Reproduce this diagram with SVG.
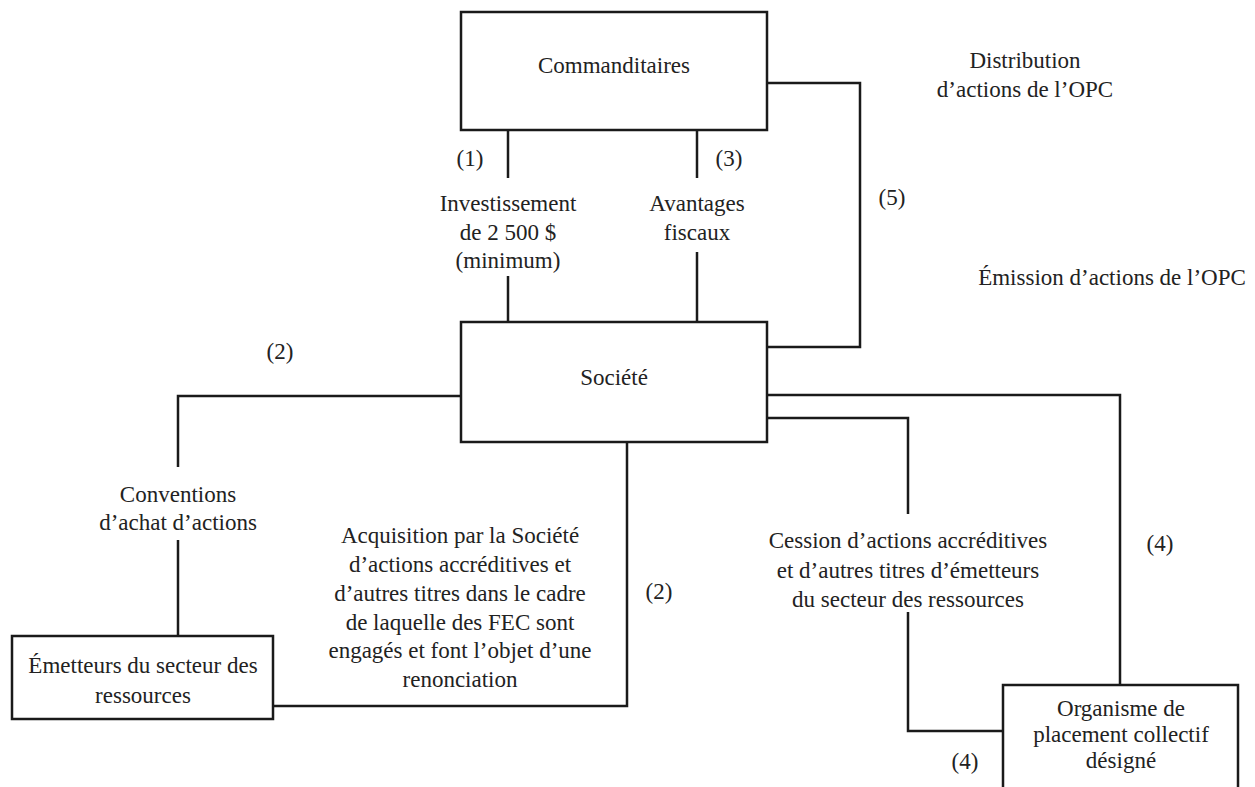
<svg xmlns="http://www.w3.org/2000/svg" width="1255" height="787" viewBox="0 0 1255 787" font-family="'Liberation Serif', 'DejaVu Serif', serif">
<style>
  .box { fill: #ffffff; stroke: #1a1a1a; stroke-width: 2.5; }
  .conn { fill: none; stroke: #1a1a1a; stroke-width: 2.5; stroke-linejoin: miter; }
  .t { font-family: 'Liberation Serif', 'DejaVu Serif', serif; font-size: 23px; fill: #222222; text-anchor: middle; }
</style>
<rect width="1255" height="787" fill="#ffffff"/>
<g id="connectors">
  <polyline class="conn" points="508,130 508,178"/>
  <polyline class="conn" points="508,276 508,322"/>
  <polyline class="conn" points="697,130 697,178"/>
  <polyline class="conn" points="697,252 697,322"/>
  <polyline class="conn" points="767,83 860,83 860,347 767,347"/>
  <polyline class="conn" points="461,396 178,396 178,467"/>
  <polyline class="conn" points="178,540 178,636"/>
  <polyline class="conn" points="273,706 627,706 627,442"/>
  <polyline class="conn" points="767,395 1120,395 1120,685"/>
  <polyline class="conn" points="767,418 908,418 908,514"/>
  <polyline class="conn" points="908,612 908,731 1003,731"/>
</g>
<g id="labels" class="t">
  <text class="t" x="470" y="166">(1)</text>
  <text class="t" x="729" y="166">(3)</text>
  <text class="t" x="508" y="211">Investissement</text>
  <text class="t" x="508" y="240">de 2 500 $</text>
  <text class="t" x="508" y="268">(minimum)</text>
  <text class="t" x="697" y="211">Avantages</text>
  <text class="t" x="697" y="240">fiscaux</text>
  <text class="t" x="892" y="205">(5)</text>
  <text class="t" x="1025" y="68">Distribution</text>
  <text class="t" x="1025" y="97">d’actions de l’OPC</text>
  <text class="t" x="1112" y="285">Émission d’actions de l’OPC</text>
  <text class="t" x="280" y="359">(2)</text>
  <text class="t" x="178" y="502">Conventions</text>
  <text class="t" x="178" y="530">d’achat d’actions</text>
  <text class="t" x="460" y="543">Acquisition par la Société</text>
  <text class="t" x="460" y="572">d’actions accréditives et</text>
  <text class="t" x="460" y="601">d’autres titres dans le cadre</text>
  <text class="t" x="460" y="630">de laquelle des FEC sont</text>
  <text class="t" x="460" y="658">engagés et font l’objet d’une</text>
  <text class="t" x="460" y="687">renonciation</text>
  <text class="t" x="659" y="599">(2)</text>
  <text class="t" x="908" y="548">Cession d’actions accréditives</text>
  <text class="t" x="908" y="578">et d’autres titres d’émetteurs</text>
  <text class="t" x="908" y="607">du secteur des ressources</text>
  <text class="t" x="1160" y="551">(4)</text>
  <text class="t" x="965" y="769">(4)</text>
</g>
<g id="node-commanditaires">
  <rect class="box" x="461" y="12" width="306" height="118"/>
  <text class="t" x="614" y="73">Commanditaires</text>
</g>
<g id="node-societe">
  <rect class="box" x="461" y="322" width="306" height="120"/>
  <text class="t" x="614" y="385">Société</text>
</g>
<g id="node-emetteurs">
  <rect class="box" x="12" y="636" width="261" height="83"/>
  <text class="t" x="143" y="673">Émetteurs du secteur des</text>
  <text class="t" x="143" y="703">ressources</text>
</g>
<g id="node-opc">
  <rect class="box" x="1003" y="685" width="235" height="110"/>
  <text class="t" x="1121" y="716">Organisme de</text>
  <text class="t" x="1121" y="742">placement collectif</text>
  <text class="t" x="1121" y="768">désigné</text>
</g>
</svg>
